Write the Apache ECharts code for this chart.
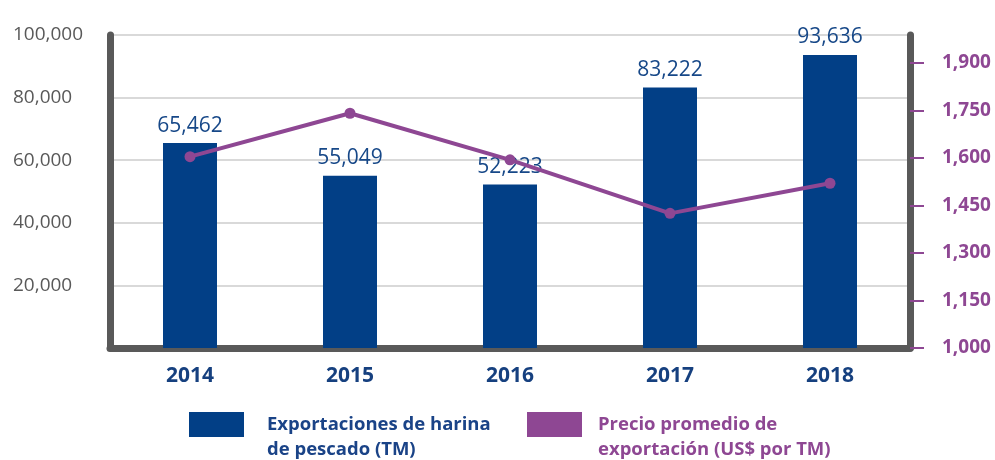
<!DOCTYPE html>
<html>
<head>
    <meta charset="utf-8">
    <title>Harina de pescado</title>
    <script src="https://cdn.jsdelivr.net/npm/echarts@6/dist/echarts.min.js"></script>
    <style>
        html, body { margin: 0; padding: 0; background: #fff; }
        #chart { width: 995px; height: 460px; }
    </style>
</head>
<body>
    <div id="chart"></div>

    <script>
        var years = ['2014', '2015', '2016', '2017', '2018'];
        var exportTons = [65462, 55049, 52223, 83222, 93636];
        var avgPrice = [1604, 1741, 1594, 1425, 1520];
        var priceTicks = [1000, 1150, 1300, 1450, 1600, 1750, 1900];

        var navy = '#023f86';
        var purple = '#8e4793';
        var axisGray = '#595959';
        var font = 'Open Sans';

        // leading empty line so the legend box sits next to the first text line
        function legendText(name) { return '\n' + name; }

        var chart = echarts.init(document.getElementById('chart'));
        chart.setOption({
            animation: false,
            textStyle: { fontFamily: font },
            grid: { left: 110, right: 85, top: 35, bottom: 112 },
            legend: [{
                left: 184, top: 382,
                itemWidth: 55, itemHeight: 25,
                formatter: legendText,
                data: [{ name: 'Exportaciones de harina\nde pescado (TM)', icon: 'rect' }],
                textStyle: { color: '#1a4387', fontWeight: 'bold', fontSize: 18.5, lineHeight: 25, padding: [0, 0, 0, 18] }
            }, {
                left: 522, top: 382,
                itemWidth: 55, itemHeight: 25,
                formatter: legendText,
                data: [{ name: 'Precio promedio de\nexportación (US$ por TM)', icon: 'rect' }],
                textStyle: { color: purple, fontWeight: 'bold', fontSize: 18.5, lineHeight: 25, padding: [0, 0, 0, 11] }
            }],
            xAxis: {
                type: 'category',
                data: years,
                axisLine: { lineStyle: { color: axisGray, width: 7 } },
                axisTick: { show: false },
                axisLabel: { color: '#16407f', fontWeight: 'bold', fontSize: 21, margin: 18 }
            },
            yAxis: [{
                type: 'value',
                min: 0, max: 100000, interval: 20000,
                axisLine: { show: true, lineStyle: { color: axisGray, width: 7 } },
                axisTick: { show: false },
                splitLine: { lineStyle: { color: '#d9d9d9', width: 2 } },
                axisLabel: {
                    color: axisGray, fontSize: 19, align: 'left', margin: 97,
                    showMinLabel: false,
                    formatter: function (v) { return v.toLocaleString('en-US'); }
                }
            }, {
                type: 'value',
                min: 1000, max: 1988,
                axisLine: { show: true, lineStyle: { color: axisGray, width: 7 } },
                axisTick: { show: true, inside: false, length: 14, customValues: priceTicks, lineStyle: { color: purple, width: 2 } },
                splitLine: { show: false },
                axisLabel: {
                    color: purple, fontSize: 19, fontWeight: 'bold', margin: 32,
                    customValues: priceTicks,
                    formatter: function (v) { return v.toLocaleString('en-US'); }
                }
            }],
            series: [{
                name: 'Exportaciones de harina\nde pescado (TM)',
                type: 'bar',
                data: exportTons,
                barWidth: 54,
                itemStyle: { color: navy },
                label: {
                    show: true, position: 'top', distance: 7,
                    color: '#174888', fontSize: 21,
                    formatter: function (p) { return p.value.toLocaleString('en-US'); }
                }
            }, {
                name: 'Precio promedio de\nexportación (US$ por TM)',
                type: 'line',
                yAxisIndex: 1,
                data: avgPrice,
                symbol: 'circle',
                symbolSize: 11,
                lineStyle: { color: purple, width: 4 },
                itemStyle: { color: purple }
            }]
        });
    </script>
</body>
</html>
